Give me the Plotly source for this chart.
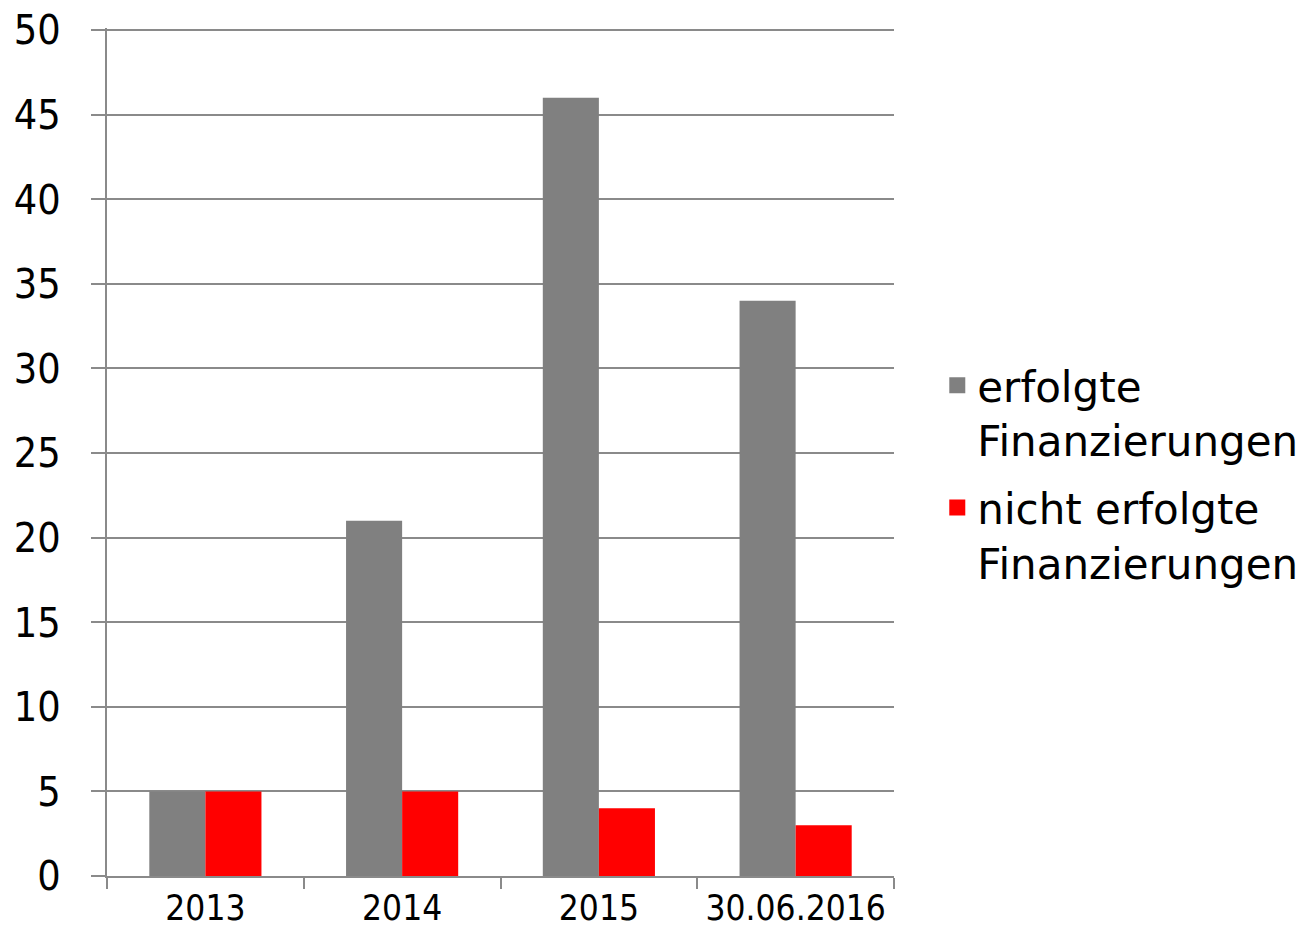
import plotly.graph_objects as go

categories = ["2013", "2014", "2015", "30.06.2016"]
erfolgte = [5, 21, 46, 34]
nicht_erfolgte = [5, 5, 4, 3]
series_names = ["erfolgte<br>Finanzierungen", "nicht erfolgte<br>Finanzierungen"]
series_colors = ["#808080", "#ff0000"]
y_ticks = [0, 5, 10, 15, 20, 25, 30, 35, 40, 45, 50]

FONT = "DejaVu Sans"
TICKFONT = "DejaVu Sans Condensed, DejaVu Sans"
GRID = "#8a8a8a"

fig = go.Figure()
for vals, name, color, grp in [(erfolgte, series_names[0], series_colors[0], "a"),
                               (nicht_erfolgte, series_names[1], series_colors[1], "b")]:
    fig.add_trace(go.Bar(x=categories, y=vals, name=name,
                         marker=dict(color=color, line=dict(width=0)),
                         legendgroup=grp, showlegend=False))
    # legend entry with a larger square symbol
    fig.add_trace(go.Scatter(x=[None], y=[None], mode="markers", name=name,
                             marker=dict(symbol="square", size=26, color=color),
                             legendgroup=grp, showlegend=True, hoverinfo="skip"))

fig.update_layout(
    width=1311, height=939,
    margin=dict(l=99, r=425, t=20, b=71, autoexpand=False),
    paper_bgcolor="white", plot_bgcolor="white",
    barmode="group", bargap=0.43, bargroupgap=0,
    font=dict(family=FONT, color="black"),
    showlegend=True,
    legend=dict(x=1.055, xanchor="left", y=0.474, yanchor="middle",
                font=dict(size=42, family=FONT), valign="top",
                tracegroupgap=10, itemwidth=30),
)
fig.update_xaxes(
    showline=True, linecolor=GRID, linewidth=2,
    ticks="outside", tickson="boundaries", ticklen=11, tickwidth=2, tickcolor=GRID,
    tickfont=dict(size=35, family=TICKFONT), showgrid=False, automargin=False,
)
fig.update_yaxes(
    range=[0, 50.12], tickvals=y_ticks,
    showline=True, linecolor=GRID, linewidth=2,
    showgrid=True, gridcolor=GRID, gridwidth=2,
    ticks="outside", ticklen=14, tickwidth=2, tickcolor=GRID,
    tickfont=dict(size=41, family=TICKFONT), ticklabelstandoff=22,
    ticklabeloverflow="allow",
    zeroline=False, automargin=False,
)

fig.write_html("out.html")
